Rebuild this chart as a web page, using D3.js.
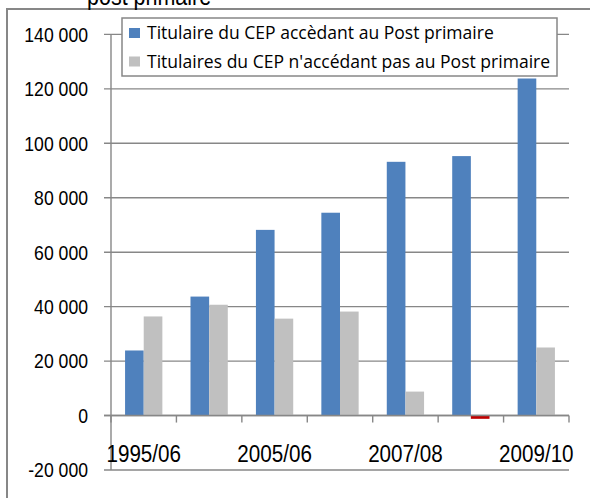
<html>
	<head>
		<script src="https://d3js.org/d3.v7.min.js"></script>
		<style>
			body { margin: 0; background: #fff; }
		</style>
	</head>
	<body>
		<script type="text/javascript">

// values
var categories = ["1995/06", "2004/05", "2005/06", "2006/07", "2007/08", "2008/09", "2009/10"];
var accedant = [23900, 43700, 68200, 74500, 93200, 95300, 123800];
var nonAccedant = [36400, 40700, 35600, 38200, 8800, -1200, 25000];
var seriesNames = ["Titulaire du CEP accèdant au Post primaire", "Titulaires du CEP n'accédant pas au Post primaire"];
var yTicks = [-20000, 0, 20000, 40000, 60000, 80000, 100000, 120000, 140000];

var colors = ["#4F81BD", "#C0C0C0"];
var negColor = "#C00000";
var gray = "#878787";
var squeeze = 0.86; // the picture is narrower than tall, text squeezed the same way

var svg = d3.select("body").append("svg")
	.attr("width", 590)
	.attr("height", 498);

// chart area border, runs off the right and bottom
svg.append("rect")
	.attr("x", 7).attr("y", 9)
	.attr("width", 620).attr("height", 520)
	.attr("fill", "none")
	.attr("stroke", gray)
	.attr("stroke-width", 2);

// helper for squeezed text
function label(g, x, y, txt, size, anchor, family, sq) {
	return g.append("text")
		.attr("transform", "translate(" + x + "," + y + ") scale(" + (sq || squeeze) + ",1)")
		.attr("text-anchor", anchor)
		.style("font-family", family || "'Liberation Sans', Arial, sans-serif")
		.style("font-size", size + "px")
		.attr("fill", "#000")
		.text(txt);
}

// second line of the title, cut by the top of the picture
label(svg, 87, 5, "post primaire", 25, "start");

var left = 111, right = 569;
var y = d3.scaleLinear().domain([-20000, 140000]).range([470, 34.4]);

var x = d3.scaleBand()
	.domain(categories)
	.range([left, right])
	.paddingInner(0.43)
	.paddingOuter(0.215);

var xs = d3.scaleBand().domain([0, 1]).range([0, x.bandwidth()]);

// grid lines with their ticks
svg.append("g").selectAll("line")
	.data(yTicks)
	.enter().append("line")
	.attr("x1", left - 7).attr("x2", right)
	.attr("y1", function(d) { return y(d); })
	.attr("y2", function(d) { return y(d); })
	.attr("stroke", gray)
	.attr("stroke-width", 1.4);

var fmt = function(d) { return d3.format(",")(d).replace(/,/g, " ").replace("\u2212", "-"); };
var yl = svg.append("g");
yTicks.forEach(function(d) {
	label(yl, 88, y(d) + 7.3, fmt(d), 20.5, "end");
});

// bars
var rows = categories.map(function(c, i) { return { cat: c, vals: [accedant[i], nonAccedant[i]] }; });
svg.append("g").selectAll("g")
	.data(rows)
	.enter().append("g")
	.attr("transform", function(d) { return "translate(" + x(d.cat) + ",0)"; })
	.selectAll("rect")
	.data(function(d) { return d.vals; })
	.enter().append("rect")
	.attr("x", function(d, i) { return xs(i); })
	.attr("width", xs.bandwidth())
	.attr("y", function(d) { return y(Math.max(0, d)); })
	.attr("height", function(d) { return Math.abs(y(d) - y(0)); })
	.attr("fill", function(d, i) { return d < 0 ? negColor : colors[i]; });

// y axis line
svg.append("line")
	.attr("x1", left).attr("x2", left)
	.attr("y1", y(140000)).attr("y2", y(-20000))
	.attr("stroke", gray).attr("stroke-width", 1.4);

// x axis at zero, with ticks between categories
var bounds = d3.range(categories.length + 1).map(function(i) { return left + i * x.step(); });
svg.append("g").selectAll("line")
	.data(bounds)
	.enter().append("line")
	.attr("x1", function(d) { return d; })
	.attr("x2", function(d) { return d; })
	.attr("y1", y(0)).attr("y2", y(0) + 7)
	.attr("stroke", gray).attr("stroke-width", 1.4);
svg.append("line")
	.attr("x1", left - 7).attr("x2", right)
	.attr("y1", y(0)).attr("y2", y(0))
	.attr("stroke", gray).attr("stroke-width", 1.4);

// every other category label
var xl = svg.append("g");
categories.forEach(function(c, i) {
	if (i % 2 == 0) label(xl, x(c) + x.bandwidth() / 2, 462, c, 24, "middle");
});

// legend
var lg = svg.append("g");
lg.append("rect")
	.attr("x", 122).attr("y", 18)
	.attr("width", 435).attr("height", 58)
	.attr("fill", "#fff")
	.attr("stroke", gray)
	.attr("stroke-width", 1.5);
seriesNames.forEach(function(s, i) {
	var ly = 39 + i * 28.5;
	lg.append("rect")
		.attr("x", 129).attr("y", ly - 11)
		.attr("width", 11).attr("height", 10)
		.attr("fill", colors[i]);
	label(lg, 147, ly, s, 18, "start", "'Open Sans', sans-serif", 0.975);
});

		</script>
	</body>
</html>
